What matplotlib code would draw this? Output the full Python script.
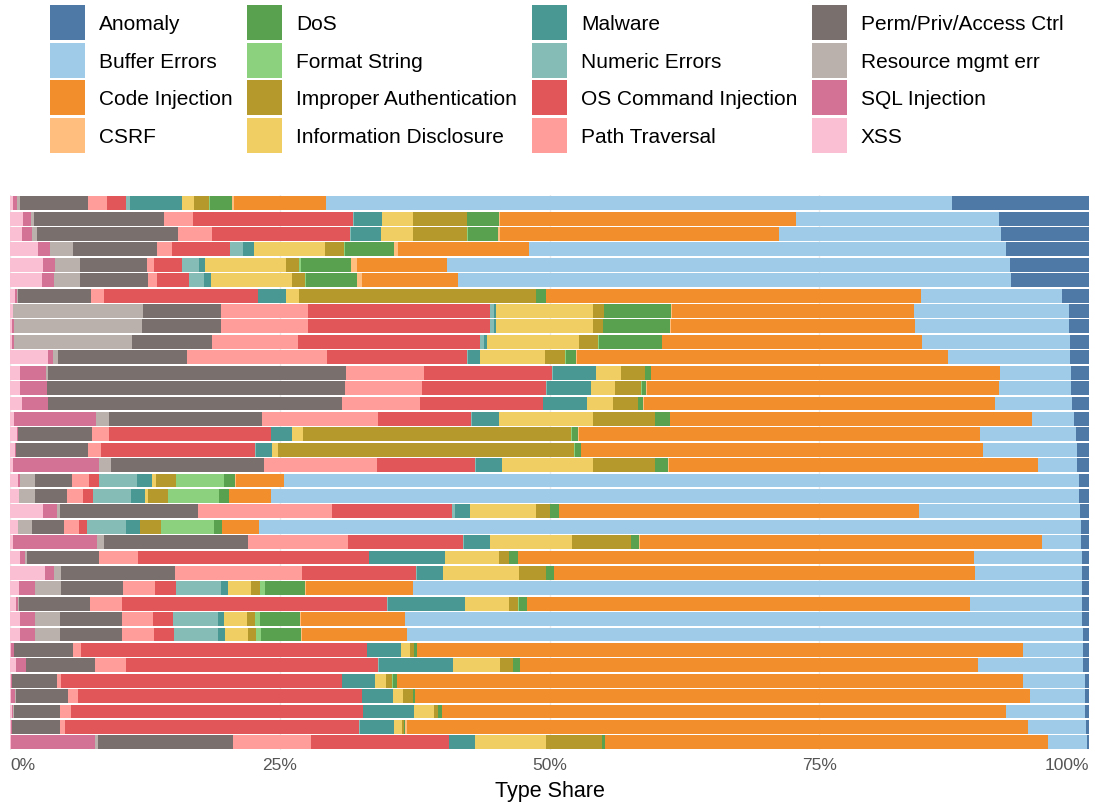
import numpy as np
import matplotlib.pyplot as plt
from matplotlib.patches import Rectangle

plt.rcParams['font.family'] = ['Liberation Sans', 'DejaVu Sans']

# relative shares per row (rows top to bottom)
xss = [3, 13, 12, 28, 33, 32, 5, 3, 2, 2, 38, 10, 10, 12, 4, 7, 5, 3, 8, 9, 33, 8, 3, 10, 35, 9, 6, 10, 10, 1, 6, 1, 1, 2, 1, 1]
sql_inj = [4, 8, 10, 12, 12, 12, 2, 0, 2, 2, 5, 26, 27, 26, 82, 1, 1, 86, 2, 0, 14, 0, 84, 5, 9, 16, 2, 15, 15, 3, 10, 1, 4, 1, 1, 84]
resource = [3, 3, 5, 23, 25, 26, 1, 130, 128, 118, 5, 2, 0, 0, 13, 0, 0, 12, 15, 16, 3, 14, 7, 2, 7, 26, 1, 25, 25, 0, 0, 0, 1, 1, 0, 3]
perm = [68, 130, 141, 84, 67, 68, 73, 78, 79, 80, 129, 298, 298, 294, 153, 74, 72, 153, 37, 32, 138, 32, 144, 72, 114, 62, 71, 62, 62, 59, 69, 45, 52, 46, 48, 135]
path_trav = [19, 29, 34, 15, 7, 9, 13, 87, 87, 86, 140, 78, 77, 78, 116, 17, 13, 113, 17, 16, 134, 15, 100, 39, 127, 32, 32, 31, 32, 8, 31, 4, 10, 11, 5, 78]
os_cmd = [19, 160, 138, 58, 28, 32, 154, 182, 182, 182, 140, 128, 124, 123, 93, 162, 154, 98, 10, 10, 120, 8, 115, 231, 114, 21, 265, 20, 20, 286, 252, 281, 284, 292, 294, 138]
numeric = [4, 1, 1, 13, 17, 15, 0.3, 4, 4, 4, 1, 1, 1, 0, 1, 0, 1, 1, 38, 38, 3, 39, 1, 0, 1, 45, 1, 45, 44, 0, 1, 0, 0, 0, 1, 0]
malware = [52, 28, 30, 11, 6, 7, 28, 2, 2, 3, 12, 43, 44, 44, 27, 21, 16, 26, 15, 14, 15, 14, 26, 76, 26, 7, 77, 6, 7, 34, 74, 33, 31, 51, 34, 26]
info_disc = [12, 31, 32, 71, 81, 81, 13, 97, 97, 92, 65, 25, 24, 26, 94, 11, 6, 92, 4, 3, 66, 0, 82, 54, 76, 23, 44, 23, 23, 9, 47, 11, 10, 20, 8, 71]
improper_auth = [15, 54, 54, 19, 13, 13, 237, 11, 10, 19, 20, 24, 26, 25, 62, 269, 296, 62, 20, 20, 14, 21, 59, 10, 27, 9, 9, 8, 8, 4, 13, 6, 10, 4, 2, 56]
format_str = [0.5, 0, 1, 1, 2, 1, 0, 0, 0, 1, 1, 0, 1, 0, 0, 1, 1, 0, 48, 51, 0, 53, 0, 0, 0, 5, 1, 5, 5, 0, 0, 1, 0, 0, 0, 0]
dos = [22, 32, 30, 49, 50, 51, 10, 67, 67, 63, 10, 6, 4, 5, 15, 6, 6, 13, 11, 10, 9, 8, 8, 9, 8, 40, 8, 40, 40, 3, 7, 4, 2, 4, 1, 3]
csrf = [2, 1, 2, 4, 6, 5, 0.3, 1, 1, 0, 1, 0, 1, 1, 0, 1, 0, 1, 1, 0, 0, 0, 1, 0, 0, 1, 0, 1, 1, 0, 0, 0, 0, 0, 2, 0]
code_inj = [92, 296, 279, 131, 90, 96, 375, 242, 244, 260, 371, 349, 352, 351, 362, 401, 402, 369, 48, 42, 360, 37, 402, 456, 421, 107, 443, 104, 105, 606, 458, 626, 615, 564, 621, 443]
buffer_err = [626, 203, 222, 477, 563, 553, 141, 155, 154, 148, 122, 71, 72, 77, 42, 96, 94, 39, 795, 808, 161, 822, 39, 108, 107, 669, 112, 677, 676, 60, 105, 62, 55, 79, 58, 39]
anomaly = [137, 90, 88, 83, 79, 78, 27, 20, 20, 19, 19, 18, 18, 17, 15, 13, 12, 12, 10, 10, 9, 8, 8, 7, 7, 7, 7, 7, 6, 6, 6, 4, 4, 4, 3, 2]

# legend order (alphabetical) and colours
types = ['Anomaly', 'Buffer Errors', 'Code Injection', 'CSRF', 'DoS', 'Format String',
         'Improper Authentication', 'Information Disclosure', 'Malware', 'Numeric Errors',
         'OS Command Injection', 'Path Traversal', 'Perm/Priv/Access Ctrl',
         'Resource mgmt err', 'SQL Injection', 'XSS']
colors = ['#4E79A7', '#A0CBE8', '#F28E2B', '#FFBE7D', '#59A14F', '#8CD17D', '#B6992D',
          '#F1CE63', '#499894', '#86BCB6', '#E15759', '#FF9D9A', '#79706E', '#BAB0AC',
          '#D37295', '#FABFD2']
values = dict(zip(types, [anomaly, buffer_err, code_inj, csrf, dos, format_str,
                          improper_auth, info_disc, malware, numeric, os_cmd, path_trav,
                          perm, resource, sql_inj, xss]))

data = np.array([values[t] for t in types], dtype=float)
share = data / data.sum(axis=0) * 100
n_rows = share.shape[1]
rows = np.arange(n_rows)

fig = plt.figure(figsize=(10.95, 8.05), dpi=100)
ax = fig.add_axes([10 / 1095, 55 / 805, 1079 / 1095, 554.5 / 805])

# stacked from the left in reverse legend order
left = np.zeros(n_rows)
for i in range(len(types) - 1, -1, -1):
    ax.barh(rows, share[i], left=left, height=0.9, color=colors[i], linewidth=0)
    left += share[i]

ax.set_xlim(0, 100)
ax.set_ylim(n_rows - 0.5, -0.5)
ax.set_yticks([])
ax.set_xticks([0, 25, 50, 75, 100])
ax.set_xticklabels(['0%', '25%', '50%', '75%', '100%'])
ax.tick_params(axis='x', length=0, pad=6, labelsize=12.5, labelcolor='#555555')
tl = ax.get_xticklabels()
tl[0].set_ha('left')
tl[-1].set_ha('right')
ax.grid(axis='x', color='#ebebeb', linewidth=1)
ax.set_axisbelow(True)
for s in ax.spines.values():
    s.set_visible(False)
ax.set_xlabel('Type Share', fontsize=15.5, labelpad=5.5, color='black')

# legend, four columns
col_x = [50, 247, 532, 812]
for k, (t, c) in enumerate(zip(types, colors)):
    col, r = divmod(k, 4)
    x0 = col_x[col]
    y0 = 5 + r * 37.7
    fig.add_artist(Rectangle((x0 / 1095, 1 - (y0 + 35) / 805), 35 / 1095, 35 / 805,
                             transform=fig.transFigure, color=c, linewidth=0))
    fig.text((x0 + 49) / 1095, 1 - (y0 + 19.5) / 805, t, fontsize=15,
             va='center', ha='left', color='black')

fig.savefig('out.png', dpi=100)
